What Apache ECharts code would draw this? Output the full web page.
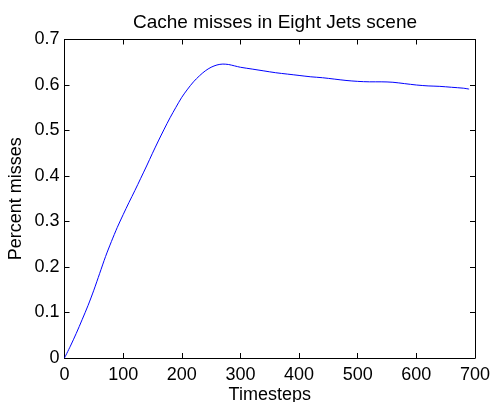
<!DOCTYPE html>
<html>
<head>
<meta charset="utf-8">
<script src="https://cdn.jsdelivr.net/npm/echarts@6/dist/echarts.min.js"></script>
<style>
html,body{margin:0;padding:0;background:#fff;}
#chart{width:492px;height:402px;}
</style>
</head>
<body>
<div id="chart"></div>
<script>
var timesteps = [0,10,20,30,40,50,60,70,80,90,100,110,120,130,140,150,160,170,180,190,200,210,220,230,240,250,260,270,280,290,300,320,340,360,380,400,420,440,460,480,500,520,540,560,580,600,620,640,660,680,690];
var missRate = [0,0.026,0.054,0.084,0.115,0.149,0.186,0.223,0.256,0.287,0.315,0.342,0.368,0.395,0.422,0.45,0.477,0.503,0.528,0.551,0.573,0.591,0.607,0.620,0.631,0.639,0.644,0.646,0.645,0.642,0.639,0.635,0.631,0.627,0.624,0.621,0.618,0.616,0.613,0.610,0.608,0.607,0.607,0.606,0.603,0.600,0.598,0.597,0.595,0.593,0.591];
var xTicks = [0,100,200,300,400,500,600,700];
var yTicks = ['0','0.1','0.2','0.3','0.4','0.5','0.6','0.7'];

var font = '"Liberation Sans", Arial, Helvetica, sans-serif';
var chart = echarts.init(document.getElementById('chart'), null, {renderer:'canvas'});
var data = timesteps.map(function(t,i){return [t, missRate[i]];});
var axisLine = {show:true, onZero:false, lineStyle:{color:'#000', width:1}};
var tick = {show:true, inside:true, length:5, lineStyle:{color:'#000', width:1}};
chart.setOption({
  animation:false,
  backgroundColor:'#fff',
  title:{text:'Cache misses in Eight Jets scene', left:270, textAlign:'center', top:8,
    textStyle:{fontFamily:font, fontSize:19, fontWeight:'normal', color:'#000'}},
  grid:{left:64.5, right:17, top:39.5, bottom:44, containLabel:false, outerBoundsMode:'none'},
  xAxis:[{type:'value', min:0, max:700, interval:100, position:'bottom',
    name:'Timesteps', nameLocation:'middle', nameGap:28, nameMoveOverlap:false,
    nameTextStyle:{fontFamily:font, fontSize:18, color:'#000'},
    axisLine:axisLine, axisTick:tick, splitLine:{show:false},
    axisLabel:{fontFamily:font, fontSize:18, color:'#000', margin:8,
      formatter:function(v){return xTicks.indexOf(v)>=0 ? String(v) : '';}}},
    {type:'value', min:0, max:700, interval:100, position:'top',
    axisLine:axisLine, axisTick:tick, splitLine:{show:false}, axisLabel:{show:false}}],
  yAxis:[{type:'value', min:0, max:0.7, interval:0.1, position:'left',
    name:'Percent misses', nameLocation:'middle', nameGap:39, nameRotate:90, nameMoveOverlap:false,
    nameTextStyle:{fontFamily:font, fontSize:18, color:'#000'},
    axisLine:axisLine, axisTick:tick, splitLine:{show:false},
    axisLabel:{fontFamily:font, fontSize:18, color:'#000', margin:5,
      formatter:function(v){return yTicks[Math.round(v*10)];}}},
    {type:'value', min:0, max:0.7, interval:0.1, position:'right',
    axisLine:axisLine, axisTick:tick, splitLine:{show:false}, axisLabel:{show:false}}],
  series:[{type:'line', data:data, showSymbol:false, smooth:0.3,
    lineStyle:{color:'#0000ff', width:1}, itemStyle:{color:'#0000ff'}}]
});
</script>
</body>
</html>
